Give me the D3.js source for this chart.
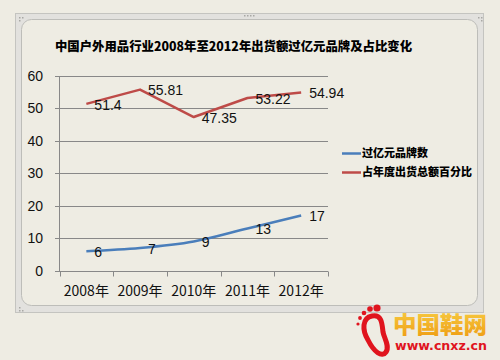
<!DOCTYPE html>
<html><head><meta charset="utf-8">
<script src="https://cdn.jsdelivr.net/npm/d3@7"></script>
<style>
html,body{margin:0;padding:0;background:#eeece3;}
svg{display:block;}
</style></head>
<body>
<svg id="c" width="500" height="360"></svg>
<script>
const categories = ["2008年","2009年","2010年","2011年","2012年"];
const brandCount = [6,7,9,13,17];
const sharePct = [51.4,55.81,47.35,53.22,54.94];
const shareLabels = ["51.4","55.81","47.35","53.22","54.94"];
const yTicks = [0,10,20,30,40,50,60];
const seriesNames = ["过亿元品牌数","占年度出货总额百分比"];
const title = "中国户外用品行业2008年至2012年出货额过亿元品牌及占比变化";

const svg = d3.select("#c");
const numFont = "'Liberation Sans','Noto Sans',sans-serif";
const cjkFont = "'Noto Sans CJK SC','Noto Sans',sans-serif";

svg.append("rect").attr("width",500).attr("height",360).attr("fill","#eeece3");
svg.append("rect").attr("x",15.5).attr("y",13.5).attr("width",468).attr("height",299)
  .attr("fill","#e2e1de").attr("stroke","#c4c4c0");
svg.append("rect").attr("x",21.5).attr("y",19.5).attr("width",456).attr("height",286).attr("rx",10)
  .attr("fill","#eeece3").attr("stroke","#bdbdb9");
[[19,17],[22,17],[19,20],[478,17],[481,17],[481,20],[19,307],[22,310],[19,310],[244,15],[247,15],[250,15],[253,15]].forEach(p=>{
  svg.append("rect").attr("x",p[0]).attr("y",p[1]).attr("width",1.5).attr("height",1.5).attr("fill","#a8a8a4");
});

const x = d3.scaleBand().domain(categories).range([59.5,328]);
const y = d3.scaleLinear().domain([0,60]).range([270.7,76]);

svg.append("g").selectAll("line").data(yTicks).join("line")
  .attr("x1",55).attr("x2",328).attr("y1",d=>Math.round(y(d))+0.5).attr("y2",d=>Math.round(y(d))+0.5)
  .attr("stroke","#888").attr("stroke-width",1);
svg.append("line").attr("x1",59.5).attr("x2",59.5).attr("y1",Math.round(y(60))+0.5).attr("y2",Math.round(y(0))+0.5)
  .attr("stroke","#888");
const bounds = categories.map(c=>x(c)).concat([x.range()[1]]);
svg.append("g").selectAll("line").data(bounds).join("line")
  .attr("x1",d=>Math.round(d)+0.5).attr("x2",d=>Math.round(d)+0.5)
  .attr("y1",Math.round(y(0))+0.5).attr("y2",Math.round(y(0))+5.5).attr("stroke","#888");

svg.append("g").selectAll("text").data(yTicks).join("text")
  .attr("x",43).attr("y",d=>y(d)).attr("dy","0.35em").attr("text-anchor","end")
  .attr("font-family",numFont).attr("font-size",14).attr("fill","#111").text(d=>d);
svg.append("g").selectAll("text").data(categories).join("text")
  .attr("x",d=>x(d)+x.bandwidth()/2).attr("y",296).attr("text-anchor","middle")
  .attr("font-family",cjkFont).attr("font-size",14).attr("fill","#111").text(d=>d);

const cx = (d,i)=>x(categories[i])+x.bandwidth()/2;

svg.append("path").datum(sharePct)
  .attr("d",d3.line().x(cx).y(d=>y(d)))
  .attr("fill","none").attr("stroke","#be4b48").attr("stroke-width",2.5).attr("stroke-linejoin","round");
svg.append("path").datum(brandCount)
  .attr("d",d3.line().x(cx).y(d=>y(d)).curve(d3.curveCatmullRom.alpha(0.5)))
  .attr("fill","none").attr("stroke","#4a7ebb").attr("stroke-width",2.5);

svg.append("g").selectAll("text").data(sharePct).join("text")
  .attr("x",(d,i)=>cx(d,i)+8).attr("y",d=>y(d)).attr("dy","0.4em")
  .attr("font-family",numFont).attr("font-size",14).attr("fill","#111").text((d,i)=>shareLabels[i]);
svg.append("g").selectAll("text").data(brandCount).join("text")
  .attr("x",(d,i)=>cx(d,i)+8).attr("y",d=>y(d)).attr("dy","0.4em")
  .attr("font-family",numFont).attr("font-size",14).attr("fill","#111").text(d=>d);

svg.append("text").attr("x",55).attr("y",51).attr("font-family",cjkFont).attr("font-size",12.5)
  .attr("font-weight","900").attr("fill","#000").attr("textLength",357).attr("lengthAdjust","spacingAndGlyphs")
  .text(title);

const legColors = ["#4a7ebb","#be4b48"];
const legY = [153.5,172.5];
seriesNames.forEach((n,i)=>{
  svg.append("line").attr("x1",342).attr("x2",361).attr("y1",legY[i]).attr("y2",legY[i])
    .attr("stroke",legColors[i]).attr("stroke-width",2.5);
  svg.append("text").attr("x",362).attr("y",legY[i]).attr("dy","0.36em")
    .attr("font-family",cjkFont).attr("font-size",11).attr("font-weight","900").attr("fill","#000").text(n);
});

const g = svg.append("g");
g.append("path").attr("d","M372,316 C362,318 362,330 368,340 C374,352 382,358 386,352 C390,346 384,338 383,332 C382,324 382,314 372,316 Z")
  .attr("fill","none").attr("stroke","#e0141e").attr("stroke-width",5);
[[377,308,3.6],[370,309,2.8],[364,313,2.3],[360,318,1.9],[358,324,1.6]].forEach(p=>{
  g.append("circle").attr("cx",p[0]).attr("cy",p[1]).attr("r",p[2]).attr("fill","#e0141e");
});
const grad = svg.append("defs").append("linearGradient").attr("id","lg").attr("x1",0).attr("y1",0).attr("x2",0).attr("y2",1);
grad.append("stop").attr("offset","0%").attr("stop-color","#f8d048");
grad.append("stop").attr("offset","100%").attr("stop-color","#ee9a10");
g.append("text").attr("x",393).attr("y",333).attr("font-family",cjkFont).attr("font-size",23)
  .attr("font-weight","900").attr("fill","url(#lg)").attr("textLength",94).attr("lengthAdjust","spacingAndGlyphs").text("中国鞋网");
g.append("text").attr("x",395).attr("y",350).attr("font-family","'DejaVu Sans',sans-serif").attr("font-size",12)
  .attr("font-weight","bold").attr("fill","#e0141e").attr("textLength",92).attr("lengthAdjust","spacingAndGlyphs").text("www.cnxz.cn");
</script>
</body></html>
